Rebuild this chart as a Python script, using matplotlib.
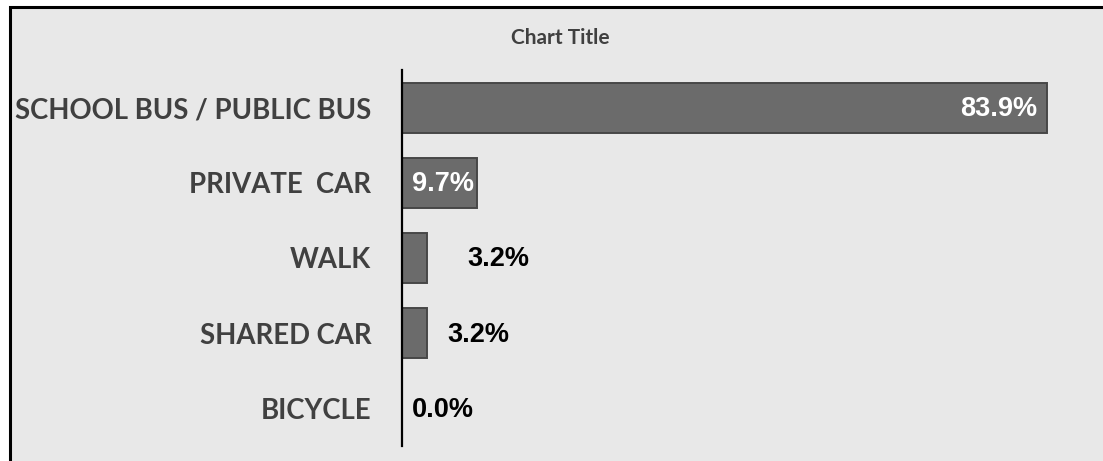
import numpy as np
import matplotlib
matplotlib.use("Agg")
import matplotlib.pyplot as plt
from matplotlib.patches import Rectangle

# data
categories = ["SCHOOL BUS / PUBLIC BUS", "PRIVATE  CAR", "WALK", "SHARED CAR", "BICYCLE"]
shares = [83.9, 9.7, 3.2, 3.2, 0.0]

# label placement (px from bar end, negative = inside the bar)
label_offsets = [-10, -3, 41, 21, 10]
label_inside = [True, True, False, False, False]

W, H = 1103, 461
fig = plt.figure(figsize=(W / 100, H / 100), dpi=100)
fig.patch.set_facecolor("white")

# chart area frame
fig.patches.append(Rectangle((9.5 / W, -0.1), 1.2, 1.1 - 7.5 / H,
                             transform=fig.transFigure, facecolor="#e8e8e8",
                             edgecolor="black", linewidth=2.2, zorder=-5))

ax = fig.add_axes([402 / W, 1 - 446 / H, (1094 - 402) / W, (446 - 70) / H])
ax.set_zorder(2)
ax.patch.set_alpha(0)

y = np.arange(len(categories))
ax.barh(y, shares, height=0.667, color="#6b6b6b", edgecolor="#474747", linewidth=1.4)
ax.set_xlim(0, 90)
ax.set_ylim(len(categories) - 0.5, -0.5)

ax.set_yticks(y)
ax.set_yticklabels(categories, fontfamily="Lato", fontweight="bold",
                   fontsize=19.8, color="#404040")
ax.tick_params(axis="y", length=0, pad=22)
ax.set_xticks([])
for s in ["top", "right", "bottom"]:
    ax.spines[s].set_visible(False)
ax.spines["left"].set_linewidth(1.6)
ax.spines["left"].set_color("black")

for i, v in enumerate(shares):
    off = label_offsets[i] * 72 / 100
    ax.annotate(f"{v:.1f}%", xy=(v, i), xytext=(off, -1), textcoords="offset points",
                ha="right" if label_inside[i] else "left", va="center",
                fontfamily="Liberation Sans", fontweight="bold", fontsize=19.5,
                color="white" if label_inside[i] else "black")

fig.text(560 / W, 1 - 38 / H, "Chart Title", ha="center", va="center",
         fontfamily="Lato", fontweight="bold", fontsize=15, color="#404040",
         zorder=3)

fig.savefig("out.png", dpi=100)
